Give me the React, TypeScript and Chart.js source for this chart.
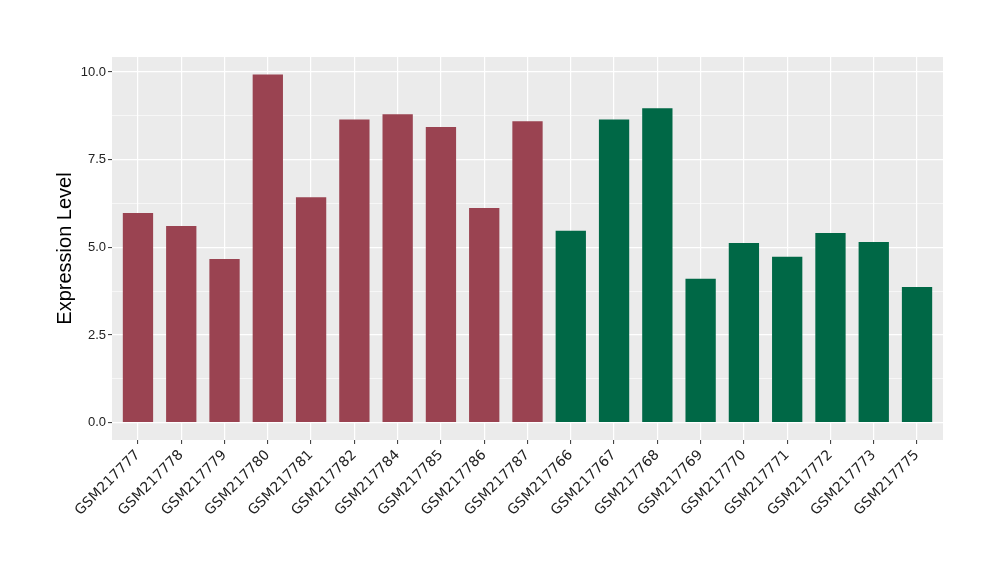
import React, { useEffect, useRef } from "react";
import { Chart, registerables } from "chart.js";

Chart.register(...registerables);

const samples = [
  "GSM217777", "GSM217778", "GSM217779", "GSM217780", "GSM217781",
  "GSM217782", "GSM217784", "GSM217785", "GSM217786", "GSM217787",
  "GSM217766", "GSM217767", "GSM217768", "GSM217769", "GSM217770",
  "GSM217771", "GSM217772", "GSM217773", "GSM217775",
];
const values = [
  5.98, 5.61, 4.67, 9.93, 6.43, 8.65, 8.80, 8.43, 6.12, 8.60,
  5.47, 8.65, 8.97, 4.10, 5.12, 4.73, 5.41, 5.15, 3.87,
];
const groups = [
  "A", "A", "A", "A", "A", "A", "A", "A", "A", "A",
  "B", "B", "B", "B", "B", "B", "B", "B", "B",
];
const groupColors: Record<string, string> = { A: "#9A4351", B: "#006846" };
const yMajorTicks = [0, 2.5, 5, 7.5, 10];
const yMinorTicks = [1.25, 3.75, 6.25, 8.75];

const panelBg = {
  id: "panelBg",
  beforeDraw(chart: any) {
    const { ctx, chartArea } = chart;
    ctx.save();
    ctx.fillStyle = "#EBEBEB";
    ctx.fillRect(chartArea.left, chartArea.top, chartArea.right - chartArea.left, chartArea.bottom - chartArea.top);
    ctx.restore();
  },
};

export default function App() {
  const ref = useRef<HTMLCanvasElement | null>(null);

  useEffect(() => {
    if (!ref.current) return;
    const isMajor = (v: number) => yMajorTicks.some((t) => Math.abs(t - v) < 1e-6);
    const chart = new Chart(ref.current, {
      type: "bar",
      data: {
        datasets: [
          {
            data: values.map((v, i) => ({ x: i + 1, y: v })),
            backgroundColor: groups.map((g) => groupColors[g]),
            barPercentage: 0.7,
            categoryPercentage: 1.0,
          } as any,
        ],
      },
      options: {
        animation: false,
        responsive: false,
        layout: { padding: { left: 0, top: 57, right: 57, bottom: 0 } },
        plugins: { legend: { display: false }, tooltip: { enabled: false } },
        scales: {
          x: {
            type: "linear",
            min: 0.4,
            max: 19.6,
            offset: false,
            afterBuildTicks: (scale: any) => {
              scale.ticks = samples.map((_, i) => ({ value: i + 1 }));
            },
            afterFit: (scale: any) => {
              scale.height = 140;
            },
            border: { display: false },
            grid: {
              offset: false,
              color: "#FFFFFF",
              lineWidth: 1.2,
              tickColor: "#333333",
              tickLength: 4,
              tickWidth: 1,
            },
            ticks: {
              autoSkip: false,
              minRotation: 45,
              maxRotation: 45,
              padding: 3,
              color: "#222222",
              font: { family: "DejaVu Sans", size: 14 },
              callback: (v: any) => samples[Math.round(Number(v)) - 1] ?? "",
            },
          },
          y: {
            type: "linear",
            min: -0.497,
            max: 10.43,
            afterBuildTicks: (scale: any) => {
              scale.ticks = [...yMajorTicks, ...yMinorTicks]
                .sort((a, b) => a - b)
                .map((v) => ({ value: v }));
            },
            afterFit: (scale: any) => {
              scale.width = 112;
            },
            border: { display: false },
            grid: {
              color: "#FFFFFF",
              lineWidth: (ctx: any) => (isMajor(ctx.tick?.value) ? 1.2 : 0.6),
              tickColor: (ctx: any) => (isMajor(ctx.tick?.value) ? "#333333" : "rgba(0,0,0,0)"),
              tickLength: 4,
              tickWidth: 1,
            },
            ticks: {
              padding: 2,
              color: "#222222",
              font: { family: "Liberation Sans", size: 13 },
              callback: (v: any) => (isMajor(Number(v)) ? Number(v).toFixed(1) : ""),
            },
            title: {
              display: true,
              text: "Expression Level",
              color: "#000000",
              font: { family: "Liberation Sans", size: 20 },
              padding: { top: 53, bottom: 0 },
            },
          },
        },
      },
      plugins: [panelBg],
    });
    return () => chart.destroy();
  }, []);

  return (
    <div style={{ position: "fixed", left: 0, top: 0, width: 1000, height: 580, background: "#FFFFFF" }}>
      <canvas ref={ref} width={1000} height={580} style={{ display: "block" }} />
    </div>
  );
}
